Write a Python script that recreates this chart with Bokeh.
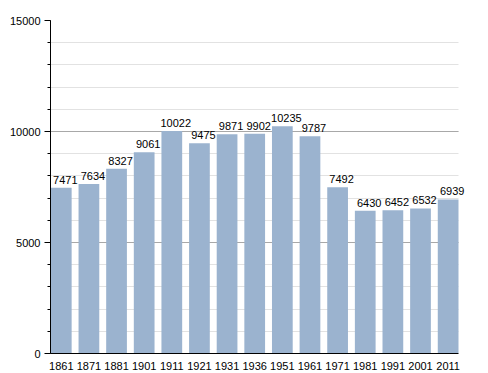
from bokeh.plotting import figure
from bokeh.models import ColumnDataSource, Range1d, FixedTicker, SingleIntervalTicker, LabelSet
from bokeh.core.properties import value
from bokeh.embed import file_html
from bokeh.resources import INLINE

years = ["1861", "1871", "1881", "1901", "1911", "1921", "1931", "1936",
         "1951", "1961", "1971", "1981", "1991", "2001", "2011"]
population = [7471, 7634, 8327, 9061, 10022, 9475, 9871, 9902,
              10235, 9787, 7492, 6430, 6452, 6532, 6939]

idx = list(range(len(years)))
src = ColumnDataSource(dict(x=idx, y=population, label=[str(v) for v in population]))

FONT = "Liberation Sans"
X0 = -0.39
X_END_DATA = len(years) - 1 + 0.375   # right edge of the plotted area
X_END_FRAME = X0 + 420 / 27.633       # extra room so end labels are not clipped

p = figure(width=488, height=372, output_backend="svg", toolbar_location=None,
           x_range=Range1d(X0, X_END_FRAME),
           y_range=Range1d(0, 15000),
           min_border_left=50, min_border_right=18, min_border_top=20, min_border_bottom=19)
p.outline_line_color = None
p.background_fill_color = "white"

p.vbar(x="x", top="y", width=0.75, source=src, fill_color="#9bb3cf", line_color=None)
labels = LabelSet(x="x", y="y", text="label", source=src, text_align="center",
                  text_baseline="alphabetic", x_offset=4, y_offset=4,
                  text_font=value(FONT), text_font_size="11px", text_color="black")
p.add_layout(labels)

# x axis
p.xaxis.ticker = FixedTicker(ticks=idx)
p.xaxis.bounds = (X0, X_END_DATA)
p.xaxis.major_label_overrides = {i: y for i, y in zip(idx, years)}
p.xaxis.major_tick_line_color = None
p.xaxis.minor_tick_line_color = None
p.xaxis.major_label_standoff = 2
p.xaxis.axis_line_color = "black"
p.xaxis.major_label_text_font = FONT
p.xaxis.major_label_text_font_size = "11px"
p.xaxis.major_label_text_color = "black"
p.xgrid.grid_line_color = None

# y axis
p.yaxis.ticker = SingleIntervalTicker(interval=5000, num_minor_ticks=5)
p.yaxis.axis_line_color = "black"
p.yaxis.major_tick_out = 6
p.yaxis.major_tick_in = 0
p.yaxis.minor_tick_out = 3
p.yaxis.minor_tick_in = 0
p.yaxis.major_tick_line_color = "black"
p.yaxis.minor_tick_line_color = "black"
p.yaxis.major_label_standoff = 4
p.yaxis.major_label_text_font = FONT
p.yaxis.major_label_text_font_size = "11px"
p.yaxis.major_label_text_color = "black"
p.ygrid.ticker = SingleIntervalTicker(interval=5000, num_minor_ticks=5)
p.ygrid.cross_bounds = (X0, X_END_DATA)
p.ygrid.grid_line_color = "#a8a8a8"
p.ygrid.minor_grid_line_color = "#e2e2e2"

open("out.html", "w").write(file_html(p, INLINE))
